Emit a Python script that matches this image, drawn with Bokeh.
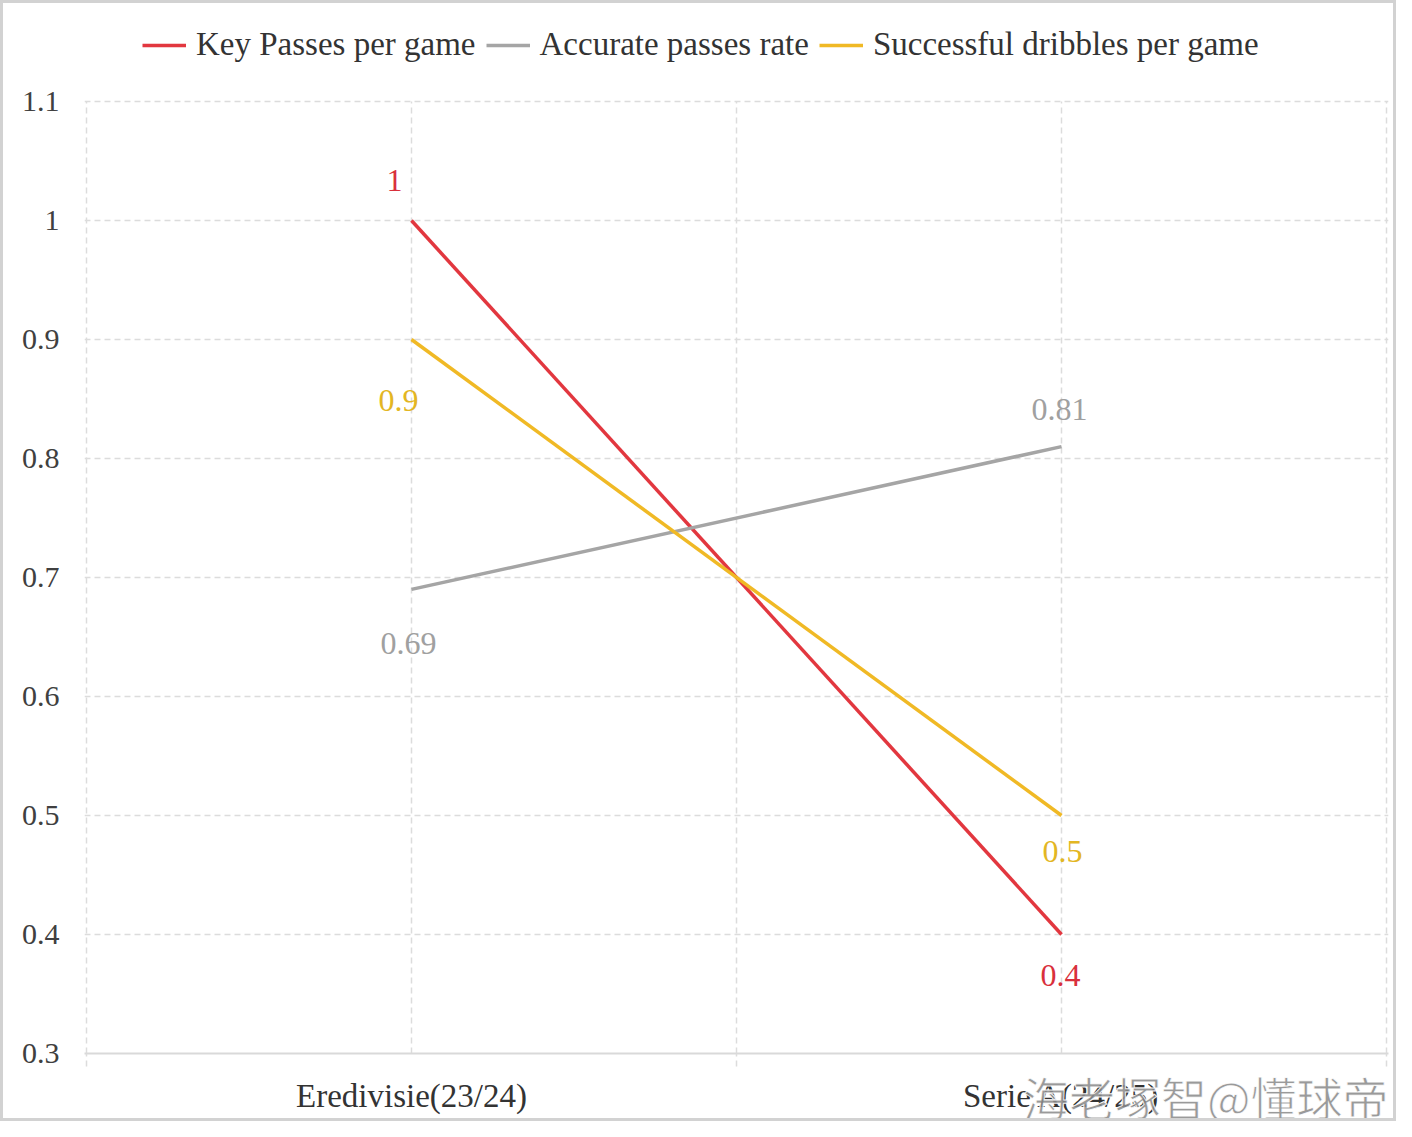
from bokeh.plotting import figure
from bokeh.models import FixedTicker, Legend, LegendItem, ColumnDataSource, LabelSet, Title, Grid
from bokeh.embed import file_html
from bokeh.resources import INLINE

# ---- data ----
leagues = ["Eredivisie(23/24)", "Serie A(24/25)"]
key_passes = [1.0, 0.4]
accurate_passes = [0.69, 0.81]
dribbles = [0.9, 0.5]
series_names = ["Key Passes per game", "Accurate passes rate", "Successful dribbles per game"]
y_ticks = [0.3, 0.4, 0.5, 0.6, 0.7, 0.8, 0.9, 1.0, 1.1]
y_tick_labels = ["0.3", "0.4", "0.5", "0.6", "0.7", "0.8", "0.9", "1", "1.1"]
watermark = "海老塚智@懂球帝"

# ---- styles ----
colors = ["#e2373f", "#a5a5a5", "#f0b925"]
label_colors = ["#d9303c", "#a0a0a0", "#e3b623"]
# label offsets (screen px) for each series at each league: (dx, dy)
label_offsets = [[(-17, 40), (-1, -41)], [(-3, -54), (-2, 37)], [(-13, -61), (1, -36)]]
SERIF = "Liberation Serif"
GRID = "#dcdcdc"
BORDER = 3

# plot area reaches the top of the canvas so the legend can sit above the 1.1 line
PX_PER_UNIT = 1190.0
TOP_SPACE = 101 - BORDER
y_lo, y_hi = y_ticks[0], y_ticks[-1] + TOP_SPACE / PX_PER_UNIT

p = figure(width=1396, height=1121, output_backend="svg", toolbar_location=None,
           x_range=(-0.503, 1.503), y_range=(y_lo, y_hi),
           min_border_left=84 - BORDER, min_border_right=11, min_border_top=0,
           min_border_bottom=71)
p.styles = {"border": "%dpx solid #d2d2d2" % BORDER, "box-sizing": "border-box"}
p.outline_line_color = None
p.background_fill_color = "white"
p.border_fill_color = "white"

xs = list(range(len(leagues)))

# x axis
p.xaxis.ticker = FixedTicker(ticks=xs, minor_ticks=[-0.5, 0.5, 1.5])
p.xaxis.major_label_overrides = {i: name for i, name in enumerate(leagues)}
p.xaxis.major_tick_line_color = None
p.xaxis.major_tick_out = 0
p.xaxis.major_tick_in = 0
p.xaxis.minor_tick_out = 13
p.xaxis.minor_tick_in = 0
p.xaxis.minor_tick_line_color = GRID
p.xaxis.minor_tick_line_width = 1.5
p.xaxis.minor_tick_line_dash = "6 4"
p.xaxis.axis_line_color = "#d9d9d9"
p.xaxis.axis_line_width = 2
p.xaxis.major_label_text_font = SERIF
p.xaxis.major_label_text_font_size = "33px"
p.xaxis.major_label_text_color = "#333333"
p.xaxis.major_label_standoff = 11

# y axis
p.yaxis.ticker = FixedTicker(ticks=y_ticks)
p.yaxis.major_label_overrides = dict(zip(y_ticks, y_tick_labels))
p.yaxis.axis_line_color = None
p.yaxis.major_tick_line_color = None
p.yaxis.minor_tick_line_color = None
p.yaxis.major_tick_out = 0
p.yaxis.major_label_text_font = SERIF
p.yaxis.major_label_text_font_size = "30px"
p.yaxis.major_label_text_color = "#404040"
p.yaxis.major_label_standoff = 25

# grids
p.xgrid.ticker = FixedTicker(ticks=[-0.5, 0, 0.5, 1, 1.5])
if "cross_bounds" in Grid.properties():
    p.xgrid.cross_bounds = (y_ticks[0], y_ticks[-1])
for g in (p.xgrid, p.ygrid):
    g.grid_line_color = GRID
    g.grid_line_width = 1.5
    g.grid_line_dash = "6 4"

series = [key_passes, accurate_passes, dribbles]
items = []
for name, vals, col, lcol, offs in zip(series_names, series, colors, label_colors, label_offsets):
    src = ColumnDataSource(dict(
        x=xs, y=vals,
        txt=[("%g" % v) for v in vals],
        dx=[o[0] for o in offs], dy=[o[1] for o in offs],
    ))
    r = p.line("x", "y", source=src, line_color=col, line_width=3.5)
    items.append(LegendItem(label=name, renderers=[r]))
    p.add_layout(LabelSet(x="x", y="y", text="txt", source=src,
                          x_offset="dx", y_offset="dy",
                          text_align="center", text_baseline="middle",
                          text_font=SERIF, text_font_size="32px", text_color=lcol))

legend = Legend(items=items, orientation="horizontal", location=(58, 1053 - 63),
                label_text_font=SERIF, label_text_font_size="33px", label_text_color="#333333",
                glyph_width=44, glyph_height=34, label_standoff=10, spacing=10,
                padding=0, margin=0, border_line_color=None, background_fill_alpha=0,
                label_height=34)
p.add_layout(legend, "center")

# watermark (bottom right)
p.add_layout(Title(text=watermark, align="right", vertical_align="top",
                   offset=0, standoff=-108,
                   text_font="Noto Sans CJK SC", text_font_size="46px",
                   text_font_style="normal",
                   text_color="#8c8c8c", text_alpha=0.9,
                   text_outline_color="white"), "below")

open("out.html", "w").write(file_html(p, INLINE))
